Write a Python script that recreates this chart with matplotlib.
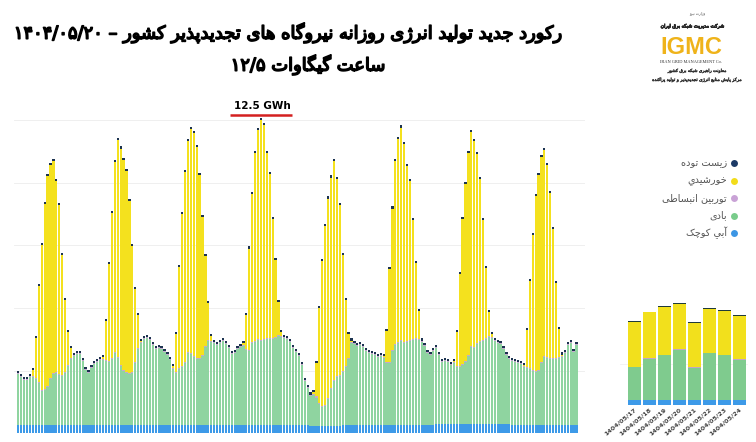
import numpy as np
import matplotlib
matplotlib.use("Agg")
import matplotlib.pyplot as plt
import matplotlib.patheffects as pe

# ---------------- data (hourly, MW) ----------------
hours = list(range(192))

solar = [
    0,0,0,0,0,20,128,308,464,592,672,682,679,612,541,384,231,106,32,0,0,0,0,0,
    0,0,0,0,0,7,125,311,464,608,695,692,672,644,551,404,234,106,3,0,0,0,0,0,
    0,0,0,0,0,5,122,324,487,608,676,717,714,676,586,442,288,119,16,0,0,0,0,0,
    0,0,0,0,0,7,109,324,474,602,669,704,685,592,525,381,247,106,13,0,0,0,0,0,
    0,0,0,0,0,4,106,304,461,570,637,672,698,628,541,372,212,77,5,0,0,0,0,0,
    0,0,0,0,0,4,100,298,452,586,650,679,634,560,509,381,240,90,2,0,0,0,0,0,
    0,0,0,0,0,4,109,295,464,567,647,685,660,605,519,384,224,77,10,0,0,0,0,0,
    0,0,0,0,0,4,119,279,432,560,624,656,660,615,528,413,240,90,5,0,0,0,0,0,
]

wind = [
    161,151,142,142,151,151,145,132,107,110,119,145,161,164,158,155,164,187,209,219,225,225,203,174,
    164,180,193,199,206,206,203,199,209,228,212,187,171,164,161,164,196,241,260,273,276,270,254,241,
    244,241,231,222,206,177,164,177,183,196,228,225,215,209,209,219,247,267,263,260,254,260,267,257,
    244,225,228,241,247,251,238,235,260,263,270,267,270,273,273,273,276,283,279,276,273,263,244,231,
    219,190,139,116,97,100,91,71,62,65,87,119,145,158,161,167,183,209,260,257,251,254,247,235,
    228,225,222,215,219,212,196,196,235,254,260,267,260,263,267,270,273,270,263,251,228,222,235,241,
    219,196,199,196,187,193,180,180,187,196,215,244,241,254,260,263,270,276,273,263,257,254,238,219,
    206,203,199,196,193,183,180,177,171,167,171,196,215,212,209,209,209,212,215,228,254,260,231,254,
]

hydro = [
    27,27,27,27,27,27,27,27,27,27,27,27,27,27,27,27,27,27,27,27,27,27,27,27,
    27,27,27,27,27,27,27,27,27,27,27,27,27,27,27,27,27,27,27,27,27,27,27,27,
    27,27,27,27,27,27,27,27,27,27,27,27,27,27,27,27,27,27,27,27,27,27,27,27,
    27,27,27,27,27,27,27,27,27,27,27,27,27,27,27,27,27,27,27,27,27,27,27,27,
    27,27,27,27,22,22,22,22,22,22,22,22,22,22,22,27,27,27,27,27,27,27,27,27,
    27,27,27,27,27,27,27,27,27,27,27,27,27,27,27,27,27,27,27,27,27,27,27,30,
    30,30,30,30,30,30,30,30,30,30,30,30,30,30,30,30,30,30,30,30,30,30,30,30,
    30,27,27,27,27,27,27,27,27,27,27,27,27,27,27,27,27,27,27,27,27,27,27,27,
]

expansion = [
    4,4,4,4,4,4,4,4,4,4,4,4,4,4,4,4,4,4,4,4,4,4,4,4,
    4,4,4,4,4,4,4,4,4,4,4,4,4,4,4,4,4,4,4,4,4,4,4,4,
    4,4,4,4,4,4,4,4,4,4,4,4,4,4,4,4,4,4,4,4,4,4,4,4,
    4,4,4,4,4,4,4,4,4,4,4,4,4,4,4,4,4,4,4,4,4,4,4,4,
    4,4,4,4,4,4,4,4,4,4,4,4,4,4,4,4,4,4,4,4,4,4,4,4,
    4,4,4,4,4,4,4,4,4,4,4,4,4,4,4,4,4,4,4,4,4,4,4,4,
    4,4,4,4,4,4,4,4,4,4,4,4,4,4,4,4,4,4,4,4,4,4,4,4,
    4,4,4,4,4,4,4,4,4,4,4,4,4,4,4,4,4,4,4,4,4,4,4,4,
]

biomass = [
    7,7,7,7,7,7,7,7,7,7,7,7,7,7,7,7,7,7,7,7,7,7,7,7,
    7,7,7,7,7,7,7,7,7,7,7,7,7,7,7,7,7,7,7,7,7,7,7,7,
    7,7,7,7,7,7,7,7,7,7,7,7,7,7,7,7,7,7,7,7,7,7,7,7,
    7,7,7,7,7,7,7,7,7,7,7,7,7,7,7,7,7,7,7,7,7,7,7,7,
    7,7,7,7,7,7,7,7,7,7,7,7,7,7,7,7,7,7,7,7,7,7,7,7,
    7,7,7,7,7,7,7,7,7,7,7,7,7,7,7,7,7,7,7,7,7,7,7,7,
    7,7,7,7,7,7,7,7,7,7,7,7,7,7,7,7,7,7,7,7,7,7,7,7,
    7,7,7,7,7,7,7,7,7,7,7,7,7,7,7,7,7,7,7,7,7,7,7,7,
]

y_ticks = [0, 200, 400, 600, 800, 1000]
record_hour = 83
record_label = "12.5 GWh"

# ---------------- inset data (daily, GWh) ----------------
days = ['1404/05/17', '1404/05/18', '1404/05/19', '1404/05/20',
        '1404/05/21', '1404/05/22', '1404/05/23', '1404/05/24']
d_hydro = [0.6, 0.6, 0.6, 0.6, 0.6, 0.6, 0.6, 0.6]
d_wind = [4.0, 5.04, 5.44, 6.12, 3.92, 5.68, 5.44, 4.92]
d_exp = [0.08, 0.08, 0.08, 0.08, 0.08, 0.08, 0.08, 0.08]
d_solar = [5.4, 5.56, 5.84, 5.56, 5.36, 5.32, 5.28, 5.28]
d_bio = [0.12, 0.1, 0.12, 0.12, 0.12, 0.14, 0.14, 0.14]

# ---------------- text ----------------
title1 = "رکورد جدید تولید انرژی روزانه نیروگاه های تجدیدپذیر کشور – ۱۴۰۴/۰۵/۲۰"
title2_words = ["۱۲/۵", "گیگاوات", "ساعت"]   # in displayed left-to-right order
legend_labels = ["زیست توده", "خورشيدي", "توربین انبساطی", "بادی", "آبي کوچک"]
legend_colors = ["#1c3a66", "#f2dc1a", "#c9a2d6", "#79cc8b", "#3c96e4"]
logo_ministry = "وزارت نیرو"
logo_company = "شرکت مدیریت شبکه برق ایران"
logo_abbr = "IGMC"
logo_en = "IRAN GRID MANAGEMENT Co."
logo_line1 = "معاونت راهبری شبکه برق کشور"
logo_line2 = "مرکز پایش منابع انرژی تجدیدپذیر و تولید پراکنده"

C_HYDRO = "#3d9ae8"
C_WIND = "#8fd4a0"
C_EXP = "#c7a7cf"
C_SOLAR = "#f4e11e"
C_BIO = "#1c3350"

# ---------------- minimal Arabic shaping ----------------
AR = {
    'ا': ('\uFE8D', '\uFE8E', None, None), 'آ': ('\uFE81', '\uFE82', None, None),
    'ب': ('\uFE8F', '\uFE90', '\uFE91', '\uFE92'), 'پ': ('\uFB56', '\uFB57', '\uFB58', '\uFB59'),
    'ت': ('\uFE95', '\uFE96', '\uFE97', '\uFE98'), 'ث': ('\uFE99', '\uFE9A', '\uFE9B', '\uFE9C'),
    'ج': ('\uFE9D', '\uFE9E', '\uFE9F', '\uFEA0'), 'چ': ('\uFB7A', '\uFB7B', '\uFB7C', '\uFB7D'),
    'ح': ('\uFEA1', '\uFEA2', '\uFEA3', '\uFEA4'), 'خ': ('\uFEA5', '\uFEA6', '\uFEA7', '\uFEA8'),
    'د': ('\uFEA9', '\uFEAA', None, None), 'ذ': ('\uFEAB', '\uFEAC', None, None),
    'ر': ('\uFEAD', '\uFEAE', None, None), 'ز': ('\uFEAF', '\uFEB0', None, None),
    'ژ': ('\uFB8A', '\uFB8B', None, None),
    'س': ('\uFEB1', '\uFEB2', '\uFEB3', '\uFEB4'), 'ش': ('\uFEB5', '\uFEB6', '\uFEB7', '\uFEB8'),
    'ص': ('\uFEB9', '\uFEBA', '\uFEBB', '\uFEBC'), 'ض': ('\uFEBD', '\uFEBE', '\uFEBF', '\uFEC0'),
    'ط': ('\uFEC1', '\uFEC2', '\uFEC3', '\uFEC4'), 'ظ': ('\uFEC5', '\uFEC6', '\uFEC7', '\uFEC8'),
    'ع': ('\uFEC9', '\uFECA', '\uFECB', '\uFECC'), 'غ': ('\uFECD', '\uFECE', '\uFECF', '\uFED0'),
    'ف': ('\uFED1', '\uFED2', '\uFED3', '\uFED4'), 'ق': ('\uFED5', '\uFED6', '\uFED7', '\uFED8'),
    'ک': ('\uFB8E', '\uFB8F', '\uFB90', '\uFB91'), 'گ': ('\uFB92', '\uFB93', '\uFB94', '\uFB95'),
    'ل': ('\uFEDD', '\uFEDE', '\uFEDF', '\uFEE0'), 'م': ('\uFEE1', '\uFEE2', '\uFEE3', '\uFEE4'),
    'ن': ('\uFEE5', '\uFEE6', '\uFEE7', '\uFEE8'), 'ه': ('\uFEE9', '\uFEEA', '\uFEEB', '\uFEEC'),
    'و': ('\uFEED', '\uFEEE', None, None), 'ی': ('\uFBFC', '\uFBFD', '\uFBFE', '\uFBFF'),
    'ي': ('\uFEF1', '\uFEF2', '\uFEF3', '\uFEF4'),
}


def shape_word(w):
    out = []
    for k, c in enumerate(w):
        f = AR.get(c)
        if f is None:
            out.append(c)
            continue
        prev = w[k - 1] if k > 0 else None
        nxt = w[k + 1] if k + 1 < len(w) else None
        jp = prev in AR and AR[prev][2] is not None
        jn = f[2] is not None and nxt in AR
        out.append(f[3] if (jp and jn) else f[1] if jp else f[2] if jn else f[0])
    return ''.join(reversed(out))


def is_ar(w):
    return any(ch in AR for ch in w)


def rtl(text):
    vis = [shape_word(w) if is_ar(w) else w for w in text.split(' ')]
    return ' '.join(reversed(vis))


def ltr_words(words):
    return ' '.join(shape_word(w) if is_ar(w) else w for w in words)


AFONT = ['DejaVu Sans']
BOLD = [pe.withStroke(linewidth=1.1, foreground='black')]

# ---------------- figure ----------------
W, H = 756, 442
fig = plt.figure(figsize=(W / 100, H / 100), dpi=100)
fig.patch.set_facecolor('white')

# main axes
ax = fig.add_axes([14 / W, 9 / H, 571 / W, 325 / H])
x = np.array(hours)
series = [(hydro, C_HYDRO), (wind, C_WIND), (expansion, C_EXP), (solar, C_SOLAR), (biomass, C_BIO)]
bottom = np.zeros(len(x))
for vals, col in series:
    v = np.array(vals, dtype=float)
    ax.bar(x, v, bottom=bottom, width=0.76, color=col, linewidth=0, zorder=2)
    bottom = bottom + v
ax.set_xlim(-1.5, 193.9)
ax.set_ylim(0, 1040)
ax.set_yticks(y_ticks)
ax.yaxis.grid(True, color='#ececec', linewidth=0.6, zorder=0)
ax.tick_params(axis='both', length=0, labelleft=False, labelbottom=False)
for s in ax.spines.values():
    s.set_visible(False)
ax.set_xticks([])

# record annotation
peak_total = bottom[record_hour]
ax.plot([record_hour - 10.5, record_hour + 10.5], [peak_total + 10, peak_total + 10],
        color='#d42020', lw=1.8, clip_on=False, solid_capstyle='butt', zorder=5)
ax.text(record_hour + 0.5, peak_total + 22, record_label, ha='center', va='bottom',
        fontsize=7.5, fontweight='bold', color='black', family='DejaVu Sans', clip_on=False)

# inset axes
ai = fig.add_axes([620 / W, 37 / H, 128 / W, 105 / H])
xi = np.arange(len(days))
b2 = np.zeros(len(days))
for vals, col in [(d_hydro, C_HYDRO), (d_wind, "#7fcb8e"), (d_exp, "#c3a6c4"),
                  (d_solar, "#f2e01c"), (d_bio, "#1f3a3a")]:
    v = np.array(vals)
    ai.bar(xi, v, bottom=b2, width=0.9, color=col, linewidth=0, zorder=2)
    b2 = b2 + v
ai.set_xlim(-0.97, 7.57)
ai.set_ylim(0, 12.8)
ai.set_yticks([0, 5])
ai.yaxis.grid(True, color='#eeeeee', linewidth=0.5, zorder=0)
ai.tick_params(axis='y', length=0, labelleft=False)
ai.tick_params(axis='x', length=0, pad=1)
ai.set_xticks(xi)
ai.set_xticklabels(days, rotation=40, ha='right', rotation_mode='anchor',
                   fontsize=4.6, fontweight='bold', color='#444444')
for s in ai.spines.values():
    s.set_visible(False)

# overlay for titles, legend, logo (pixel coordinates)
ov = fig.add_axes([0, 0, 1, 1], facecolor='none')
ov.set_xlim(0, W)
ov.set_ylim(H, 0)
ov.axis('off')

renderer = fig.canvas.get_renderer()


def fit(t, width_px):
    w = t.get_window_extent(renderer).width
    t.set_fontsize(t.get_fontsize() * width_px / w)


t1 = ov.text(288, 33, rtl(title1), ha='center', va='center', fontsize=12,
             family=AFONT, color='black', path_effects=BOLD)
fit(t1, 548)
t2 = ov.text(308, 65, ltr_words(title2_words), ha='center', va='center',
             fontsize=t1.get_fontsize(), family=AFONT, color='black', path_effects=BOLD)

# legend
for k, (lab, col) in enumerate(zip(legend_labels, legend_colors)):
    yy = 163 + 17.5 * k
    ov.plot([734], [yy], marker='o', markersize=5, color=col, markeredgewidth=0)
    ov.text(727, yy, rtl(lab), ha='right', va='center', fontsize=7, family=AFONT, color='#555555')

# logo
tl0 = ov.text(697, 13, rtl(logo_ministry), ha='center', va='center', fontsize=4,
              family=AFONT, color='#444444')
fit(tl0, 16)
tl1 = ov.text(692, 26, rtl(logo_company), ha='center', va='center', fontsize=7,
              family=AFONT, color='#2a2a2a',
              path_effects=[pe.withStroke(linewidth=0.6, foreground='#2a2a2a')])
fit(tl1, 64)
tl2 = ov.text(691, 48, logo_abbr, ha='center', va='center', fontsize=17, fontweight='bold',
              family=['Liberation Sans Narrow', 'Liberation Sans', 'DejaVu Sans'], color='#efb31a')
tl3 = ov.text(691, 62, logo_en, ha='center', va='center', fontsize=3,
              family=['Liberation Serif', 'DejaVu Serif'], color='#333333')
fit(tl3, 62)
tl4 = ov.text(697, 71, rtl(logo_line1), ha='center', va='center', fontsize=4,
              family=AFONT, color='#333333',
              path_effects=[pe.withStroke(linewidth=0.3, foreground='#333333')])
fit(tl4, 58)
tl5 = ov.text(697, 80, rtl(logo_line2), ha='center', va='center', fontsize=4,
              family=AFONT, color='#333333',
              path_effects=[pe.withStroke(linewidth=0.3, foreground='#333333')])
fit(tl5, 88)

fig.savefig('out.png', dpi=100, facecolor='white')
